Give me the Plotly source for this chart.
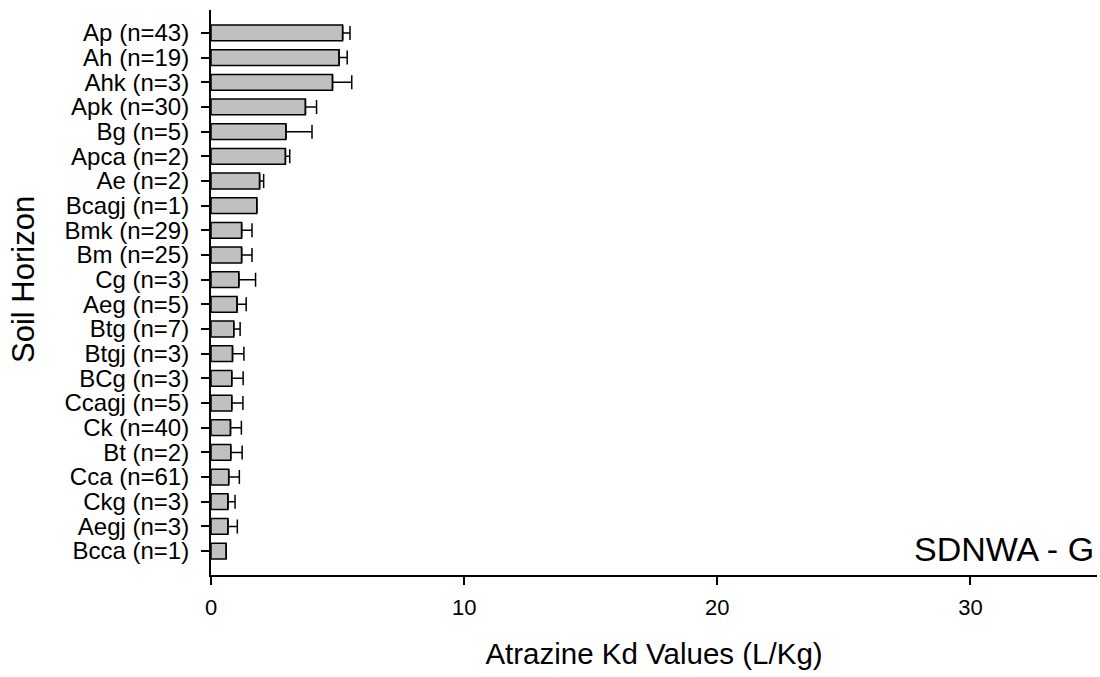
import plotly.graph_objects as go

horizons = ["Ap (n=43)", "Ah (n=19)", "Ahk (n=3)", "Apk (n=30)", "Bg (n=5)", "Apca (n=2)",
            "Ae (n=2)", "Bcagj (n=1)", "Bmk (n=29)", "Bm (n=25)", "Cg (n=3)", "Aeg (n=5)",
            "Btg (n=7)", "Btgj (n=3)", "BCg (n=3)", "Ccagj (n=5)", "Ck (n=40)", "Bt (n=2)",
            "Cca (n=61)", "Ckg (n=3)", "Aegj (n=3)", "Bcca (n=1)"]
kd_mean = [5.20, 5.06, 4.80, 3.73, 2.96, 2.94, 1.92, 1.81, 1.21, 1.21, 1.10, 1.03,
           0.90, 0.85, 0.82, 0.82, 0.77, 0.78, 0.70, 0.67, 0.67, 0.60]
kd_err = [0.29, 0.32, 0.76, 0.44, 1.03, 0.17, 0.16, 0.0, 0.41, 0.41, 0.66, 0.36,
          0.25, 0.45, 0.45, 0.44, 0.43, 0.45, 0.42, 0.28, 0.37, 0.0]
x_ticks = [0, 10, 20, 30]

# plot bottom-up so first category is at top
cats = horizons[::-1]
vals = kd_mean[::-1]
errs = kd_err[::-1]

fig = go.Figure()
fig.add_trace(go.Bar(
    x=vals, y=cats, orientation="h",
    marker=dict(color="#c0c0c0", line=dict(color="black", width=1.5)),
    error_x=dict(type="data", array=errs, arrayminus=[0]*len(errs), symmetric=False,
                 visible=True, color="black", thickness=1.5, width=7),
    width=0.64,
))

font = "Liberation Sans, Arial, sans-serif"
fig.update_layout(
    width=1100, height=677,
    margin=dict(l=211, r=3, t=10, b=102),
    plot_bgcolor="white", paper_bgcolor="white",
    showlegend=False,
    font=dict(family=font, size=20, color="black"),
    xaxis=dict(range=[0, 35], tickmode="array", tickvals=x_ticks, showgrid=False, zeroline=False,
               showline=True, linecolor="black", linewidth=2,
               ticks="outside", ticklen=8, tickwidth=1.5, tickcolor="black",
               tickfont=dict(size=22), ticklabelstandoff=4,
               title=dict(text="Atrazine Kd Values (L/Kg)", font=dict(size=29.5), standoff=24)),
    yaxis=dict(type="category", categoryorder="array", categoryarray=cats,
               tickmode="array", tickvals=cats, ticktext=cats,
               range=[-0.97, 21.93], showgrid=False, zeroline=False,
               showline=True, linecolor="black", linewidth=2,
               ticks="outside", ticklen=8, tickwidth=1.5, tickcolor="black",
               tickfont=dict(size=24), ticklabelstandoff=7),
    annotations=[
        dict(text="SDNWA - G", xref="paper", yref="paper", x=0.9985, y=0.046,
             xanchor="right", yanchor="middle", showarrow=False,
             font=dict(size=34, family=font, color="black")),
        dict(text="Soil Horizon", xref="paper", yref="paper",
             x=(23 - 211) / 886, y=(575 - 280) / 565, xanchor="center", yanchor="middle",
             textangle=-90, showarrow=False, font=dict(size=31, family=font, color="black")),
    ],
)

fig.write_html("out.html")
